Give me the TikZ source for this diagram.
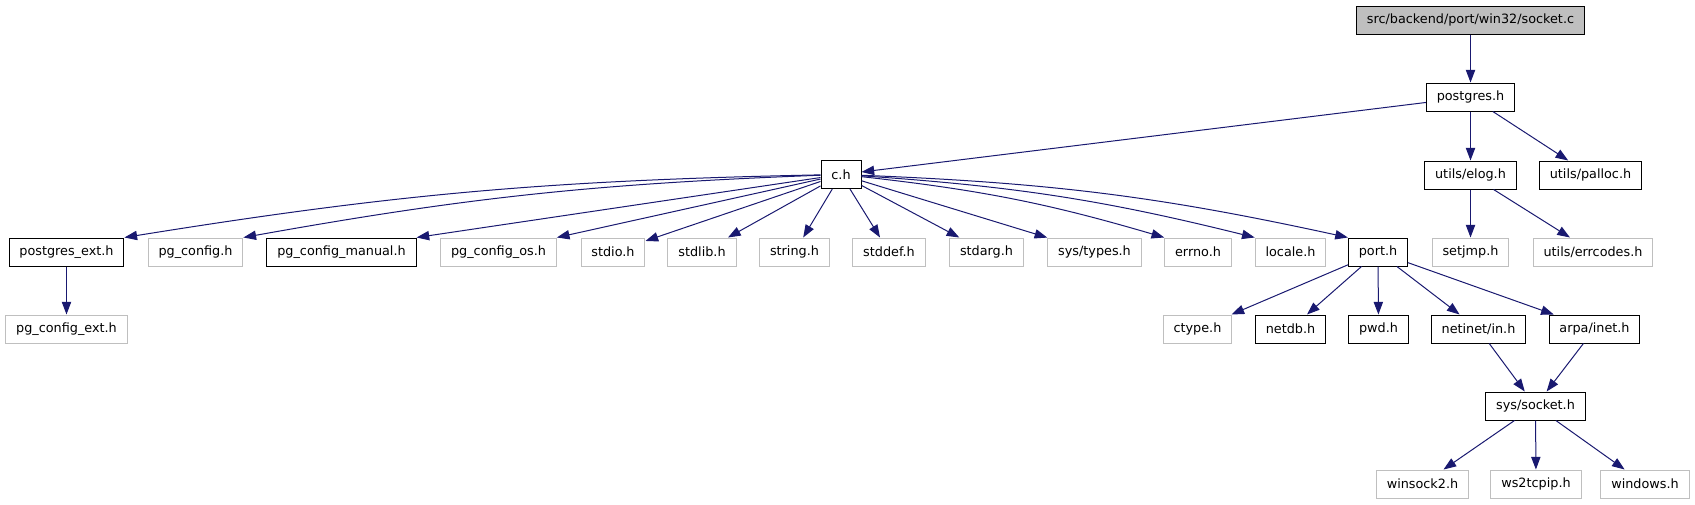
\documentclass[tikz,border=0pt]{standalone}
\usepackage{fontspec}
\setmainfont{DejaVu Sans}
\usepackage{tikz}
\usetikzlibrary{arrows.meta}
\usepackage{xcolor}
\definecolor{edgeblue}{HTML}{191970}
\definecolor{boxgrey}{HTML}{BFBFBF}

\begin{document}
\begin{tikzpicture}[x=0.75pt, y=-0.75pt, >={Triangle[length=9.5pt, width=7pt]},
  every node/.style={rectangle, draw=black, line width=0.75pt, minimum height=21pt,
    inner xsep=7.8pt, inner ysep=0pt, font=\fontsize{9.6}{11}\selectfont},
  ext/.style={draw=boxgrey},
  root/.style={fill=boxgrey},
  link/.style={->, edgeblue, line width=0.75pt}]
  \useasboundingbox (0,0) rectangle (1695,504);
  \node[root] (socket) at (1470.5,20) {src/backend/port/win32/socket.c};
  \node (postgres) at (1470.5,97) {postgres.h};
  \node (ch) at (841,174.5) {c.h};
  \node (elog) at (1470.5,175) {utils/elog.h};
  \node (palloc) at (1590.5,175) {utils/palloc.h};
  \node (pgext) at (66.5,252) {postgres\_ext.h};
  \node[ext] (pgconfig) at (195.5,252) {pg\_config.h};
  \node (pgmanual) at (341.5,252) {pg\_config\_manual.h};
  \node[ext] (pgos) at (498.5,252) {pg\_config\_os.h};
  \node[ext] (stdio) at (613,252) {stdio.h};
  \node[ext] (stdlib) at (702,252) {stdlib.h};
  \node[ext] (string) at (794.5,252) {string.h};
  \node[ext] (stddef) at (889,252) {stddef.h};
  \node[ext] (stdarg) at (986.5,252) {stdarg.h};
  \node[ext] (systypes) at (1094.5,252) {sys/types.h};
  \node[ext] (errno) at (1198,252) {errno.h};
  \node[ext] (locale) at (1290.5,252) {locale.h};
  \node (port) at (1378,252) {port.h};
  \node[ext] (setjmp) at (1470.5,252) {setjmp.h};
  \node[ext] (errcodes) at (1593,252) {utils/errcodes.h};
  \node[ext] (pgcfgext) at (66.5,329) {pg\_config\_ext.h};
  \node[ext] (ctype) at (1197.5,329) {ctype.h};
  \node (netdb) at (1290.5,329) {netdb.h};
  \node (pwd) at (1378.5,329) {pwd.h};
  \node (netinet) at (1478.5,329) {netinet/in.h};
  \node (arpainet) at (1594.5,329) {arpa/inet.h};
  \node (syssocket) at (1535.5,406) {sys/socket.h};
  \node[ext] (winsock) at (1422.5,484) {winsock2.h};
  \node[ext] (wstcpip) at (1536,484) {ws2tcpip.h};
  \node[ext] (windows) at (1645,484) {windows.h};
  \draw[link] (socket) -- (postgres);
  \draw[link] (postgres) -- (ch);
  \draw[link] (postgres) -- (elog);
  \draw[link] (postgres) -- (palloc);
  \draw[link] (elog) -- (setjmp);
  \draw[link] (elog) -- (errcodes);
  \draw[link] (ch) to[bend right=4] (pgext.north east);
  \draw[link] (ch) to[bend right=4] (pgconfig.north east);
  \draw[link] (ch) -- (pgmanual.north east);
  \draw[link] (ch) -- (pgos.north east);
  \foreach \t in {stdio,stdlib,string,stddef,stdarg,systypes}
    \draw[link] (ch) -- (\t);
  \draw[link] (ch) to[bend left=5] (errno.north west);
  \draw[link] (ch) to[bend left=5] (locale.north west);
  \draw[link] (ch) to[bend left=5] (port.north west);
  \draw[link] (pgext) -- (pgcfgext);
  \foreach \t in {ctype,netdb,pwd,netinet,arpainet}
    \draw[link] (port) -- (\t);
  \draw[link] (netinet) -- (syssocket);
  \draw[link] (arpainet) -- (syssocket);
  \foreach \t in {winsock,wstcpip,windows}
    \draw[link] (syssocket) -- (\t);
\end{tikzpicture}
\end{document}
